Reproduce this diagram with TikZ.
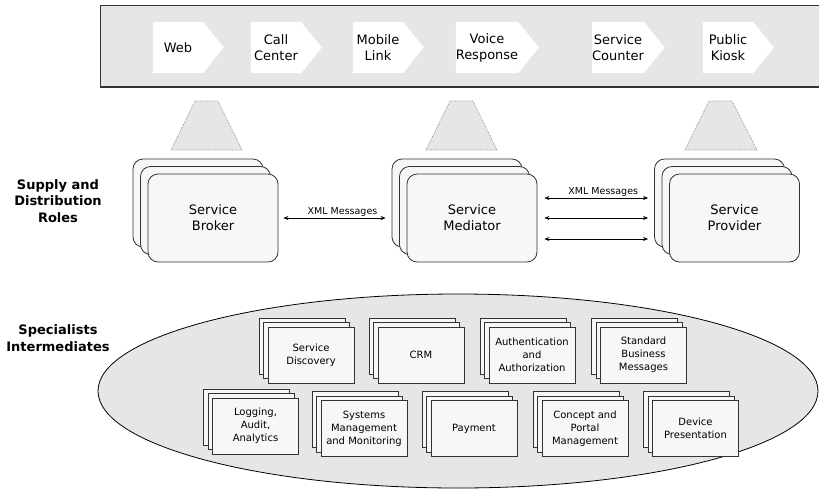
\documentclass[tikz,border=0pt]{standalone}
\usepackage{fontspec}
\setmainfont{DejaVu Sans}
\usetikzlibrary{shapes.symbols,shadows,arrows.meta}
\definecolor{bandgray}{HTML}{E6E6E6}
\definecolor{boxfill}{HTML}{F7F7F7}
\definecolor{dotgray}{HTML}{8C8C8C}
\definecolor{linegray}{HTML}{333333}

\tikzset{
  chevron/.style={signal, signal to=east, signal pointer angle=102, fill=white,
    inner sep=0pt, minimum width=71pt, minimum height=51pt, align=center,
    font=\fontsize{13}{16}\selectfont},
  rolebox/.style={draw=linegray, line width=0.8pt, rounded corners=10pt, fill=boxfill,
    minimum width=130pt, minimum height=88pt, align=center,
    font=\fontsize{13}{16}\selectfont,
    double copy shadow={shadow xshift=-7.5pt, shadow yshift=7.5pt}},
  specbox/.style={draw=linegray, line width=0.7pt, fill=boxfill,
    minimum width=86pt, minimum height=56pt, align=center,
    font=\fontsize{10}{13}\selectfont,
    double copy shadow={shadow xshift=-4.5pt, shadow yshift=4.5pt}},
  funnel/.style={fill=bandgray, draw=dotgray, densely dotted, line width=0.7pt},
  msg/.style={{Stealth[length=5pt,width=4pt]}-{Stealth[length=5pt,width=4pt]}, line width=0.6pt},
  msglabel/.style={above, inner sep=1pt, font=\fontsize{9.5}{11}\selectfont},
  sidelabel/.style={align=center, font=\bfseries\fontsize{13}{16.5}\selectfont}
}

\begin{document}
\begin{tikzpicture}[x=1pt, y=-1pt]
\useasboundingbox (0,0) rectangle (819,496);

% Channel band
\draw[fill=bandgray, draw=linegray, line width=0.8pt] (100,5) rectangle (830,87);
\draw[linegray, line width=1.2pt] (100,87) -- (830,87);

% ---------- Channels ----------
\node[chevron] (web)     at (178,47.5) {Web};
\node[chevron] (call)    at (276,47.5) {Call\\Center};
\node[chevron] (mobile)  at (378,47.5) {Mobile\\Link};
\node[chevron] (voice)   at (487,47.5) {Voice\\Response};
\node[chevron] (counter) at (618,47.5) {Service\\Counter};
\node[chevron] (kiosk)   at (728,47.5) {Public\\Kiosk};

% Funnels
\draw[funnel] (195,101) -- (218,101) -- (242,150) -- (171,150) -- cycle;
\draw[funnel] (450,101) -- (473,101) -- (497,150) -- (426,150) -- cycle;
\draw[funnel] (709,101) -- (732,101) -- (757,150) -- (685,150) -- cycle;

% ---------- Supply and distribution roles ----------
\node[sidelabel] (supply) at (58,201) {Supply and\\Distribution\\Roles};

\node[rolebox] (broker)   at (213,218) {Service\\Broker};
\node[rolebox] (mediator) at (472,218) {Service\\Mediator};
\node[rolebox] (provider) at (734.5,218) {Service\\Provider};

\draw[msg, shorten <=5pt, shorten >=21pt] (broker.east) -- (mediator.west)
  node[msglabel, midway] {XML Messages};
\draw[msg, shorten <=7pt, shorten >=21pt] ([yshift=20pt]mediator.east) -- ([yshift=20pt]provider.west)
  node[msglabel, midway] {XML Messages};
\draw[msg, shorten <=7pt, shorten >=21pt] (mediator.east) -- (provider.west);
\draw[msg, shorten <=7pt, shorten >=21pt] ([yshift=-21pt]mediator.east) -- ([yshift=-21pt]provider.west);

% ---------- Specialists ----------
\node[sidelabel] (special) at (58,338) {Specialists\\Intermediates};

\draw[fill=bandgray, draw=black, line width=0.8pt] (458,391) ellipse [x radius=360pt, y radius=97pt];

\node[specbox] (discovery) at (311,355)   {Service\\Discovery};
\node[specbox] (crm)       at (421,355)   {CRM};
\node[specbox] (auth)      at (532,355)   {Authentication\\and\\Authorization};
\node[specbox] (standard)  at (643.5,355) {Standard\\Business\\Messages};

\node[specbox] (logging)   at (255.5,426) {Logging,\\Audit,\\Analytics};
\node[specbox] (systems)   at (364,428.5) {Systems\\Management\\and Monitoring};
\node[specbox] (payment)   at (474,428.5) {Payment};
\node[specbox] (concept)   at (585,428.5) {Concept and\\Portal\\Management};
\node[specbox] (device)    at (695.5,428.5) {Device\\Presentation};

\end{tikzpicture}
\end{document}
